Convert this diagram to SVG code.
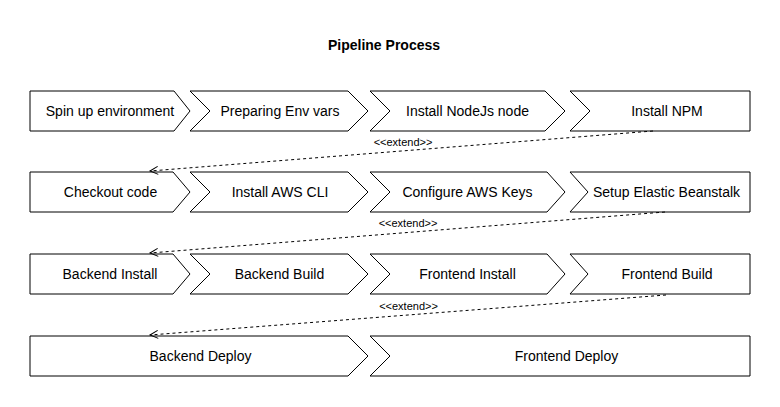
<svg xmlns="http://www.w3.org/2000/svg" width="780" height="407" viewBox="0 0 780 407">
<style>
.step{fill:#fff;stroke:#000;stroke-width:1}
.lbl{font-family:"Liberation Sans",Arial,sans-serif;font-size:14px;fill:#000;text-anchor:middle}
.ext{font-family:"Liberation Sans",Arial,sans-serif;font-size:11px;fill:#000;text-anchor:middle}
.title{font-family:"Liberation Sans",Arial,sans-serif;font-size:14px;font-weight:bold;fill:#000;text-anchor:middle}
.conn{fill:none;stroke:#000;stroke-width:1;stroke-dasharray:3 3}
</style>
<defs>
<marker id="open" markerWidth="12" markerHeight="12" viewBox="-10 -6 12 12" refX="0" refY="0" orient="auto" markerUnits="userSpaceOnUse">
<path d="M-8,-4 L0,0 L-8,4" fill="none" stroke="#000" stroke-width="1"/>
</marker>
</defs>
<rect width="780" height="407" fill="#fff"/>
<text class="title" x="384" y="50">Pipeline Process</text>

<g id="spin-up">
<polygon class="step" points="30,91 174,91 190,111 174,131 30,131"/>
<text class="lbl" x="110" y="116">Spin up environment</text>
</g>
<g id="preparing-env">
<polygon class="step" points="190,91 348,91 368,111 348,131 190,131 210,111"/>
<text class="lbl" x="280" y="116">Preparing Env vars</text>
</g>
<g id="install-node">
<polygon class="step" points="370,91 545,91 565,111 545,131 370,131 390,111"/>
<text class="lbl" x="467.5" y="116">Install NodeJs node</text>
</g>
<g id="install-npm">
<polygon class="step" points="570,91 750,91 750,131 570,131 590,111"/>
<text class="lbl" x="667" y="116">Install NPM</text>
</g>

<g id="checkout">
<polygon class="step" points="30,172 173,172 190,192 173,212 30,212"/>
<text class="lbl" x="110.5" y="197">Checkout code</text>
</g>
<g id="install-aws">
<polygon class="step" points="190,172 348,172 368,192 348,212 190,212 210,192"/>
<text class="lbl" x="280" y="197">Install AWS CLI</text>
</g>
<g id="configure-aws">
<polygon class="step" points="370,172 547,172 565,192 547,212 370,212 390,192"/>
<text class="lbl" x="467.5" y="197">Configure AWS Keys</text>
</g>
<g id="setup-eb">
<polygon class="step" points="570,172 750,172 750,212 570,212 588,192"/>
<text class="lbl" x="666.5" y="197">Setup Elastic Beanstalk</text>
</g>

<g id="backend-install">
<polygon class="step" points="30,254 173,254 190,274 173,294 30,294"/>
<text class="lbl" x="110" y="279">Backend Install</text>
</g>
<g id="backend-build">
<polygon class="step" points="190,254 348,254 368,274 348,294 190,294 210,274"/>
<text class="lbl" x="279.5" y="279">Backend Build</text>
</g>
<g id="frontend-install">
<polygon class="step" points="370,254 547,254 565,274 547,294 370,294 390,274"/>
<text class="lbl" x="467.5" y="279">Frontend Install</text>
</g>
<g id="frontend-build">
<polygon class="step" points="570,254 750,254 750,294 570,294 588,274"/>
<text class="lbl" x="667" y="279">Frontend Build</text>
</g>

<g id="backend-deploy">
<polygon class="step" points="30,336 348,336 368,356 348,376 30,376"/>
<text class="lbl" x="200.5" y="361">Backend Deploy</text>
</g>
<g id="frontend-deploy">
<polygon class="step" points="370,336 750,336 750,376 370,376 390,356"/>
<text class="lbl" x="566.5" y="361">Frontend Deploy</text>
</g>

<g id="connectors">
<path class="conn" d="M653,131 L150,171" marker-end="url(#open)"/>
<text class="ext" x="403" y="146">&lt;&lt;extend&gt;&gt;</text>
<path class="conn" d="M665,212 L150,253" marker-end="url(#open)"/>
<text class="ext" x="408" y="227">&lt;&lt;extend&gt;&gt;</text>
<path class="conn" d="M666,295 L150,335" marker-end="url(#open)"/>
<text class="ext" x="408.5" y="310">&lt;&lt;extend&gt;&gt;</text>
</g>
</svg>
